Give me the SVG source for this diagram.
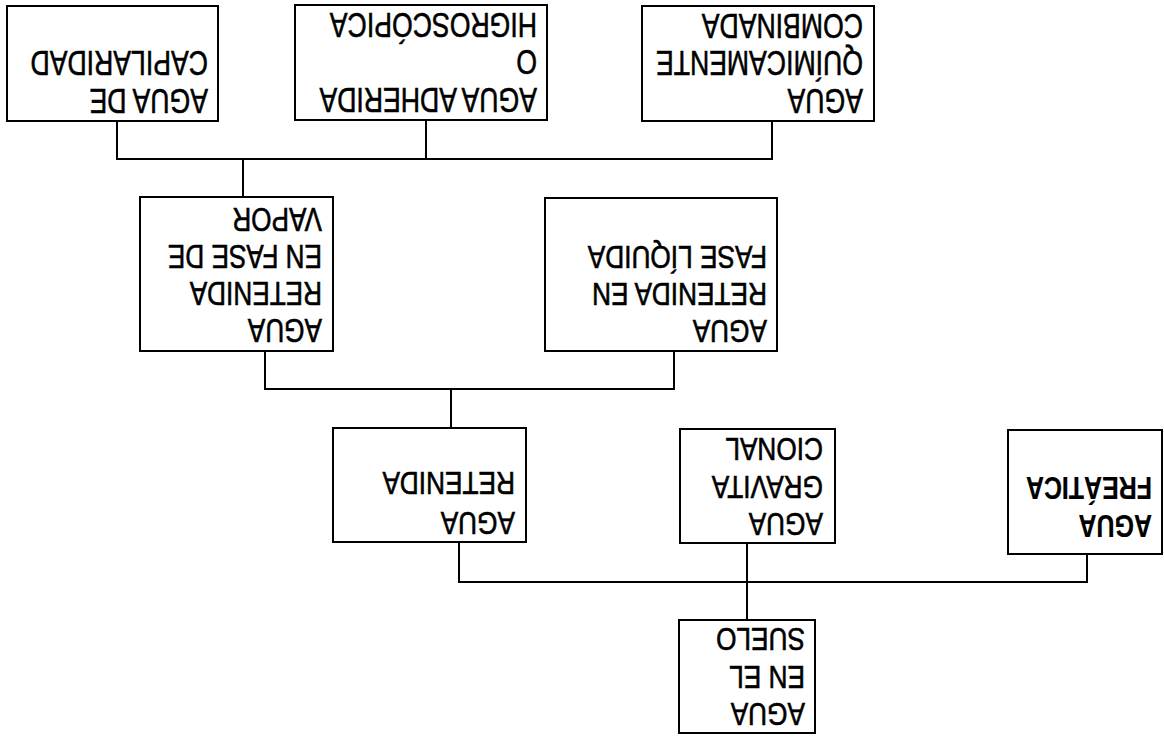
<svg xmlns="http://www.w3.org/2000/svg" width="1164" height="738" viewBox="0 0 1164 738">
<style>
.box{fill:#fff;stroke:#000;stroke-width:2}
.con{fill:none;stroke:#000;stroke-width:2}
text{font-family:"Liberation Sans",Arial,sans-serif;fill:#000;stroke:#000;stroke-width:0.6}
.big{font-size:36px}
.mid{font-size:34px}
.sm{font-size:32px}
.b{font-weight:bold;stroke-width:0.2}
</style>
<rect width="1164" height="738" fill="#fff"/>
<g id="connectors">
<path class="con" d="M117 121V159H772V121M426 120V159M243 159V197"/>
<path class="con" d="M265 351V389H674V351M451 389V428"/>
<path class="con" d="M459 542V582H1087V554M747 543V620"/>
</g>
<g id="capilaridad">
<rect class="box" x="7" y="6" width="211" height="115"/>
<text class="big" transform="translate(208,89) rotate(180) scale(0.74,1)"><tspan x="0" y="0">AGUA DE</tspan><tspan x="0" y="37.7">CAPILARIDAD</tspan></text>
</g>
<g id="adherida">
<rect class="box" x="295" y="5" width="252" height="115"/>
<text class="big" transform="translate(537,88) rotate(180) scale(0.74,1)"><tspan x="0" y="0">AGUA ADHERIDA</tspan><tspan x="0" y="37.7">O</tspan><tspan x="0" y="75.4">HIGROSCÓPICA</tspan></text>
</g>
<g id="quimica">
<rect class="box" x="642" y="6" width="232" height="115"/>
<text class="big" transform="translate(863,89) rotate(180) scale(0.74,1)"><tspan x="0" y="0">AGUA</tspan><tspan x="0" y="37.7">QUÍMICAMENTE</tspan><tspan x="0" y="75.4">COMBINADA</tspan></text>
</g>
<g id="vapor">
<rect class="box" x="140" y="197" width="193" height="154"/>
<text class="mid" transform="translate(322,319) rotate(180) scale(0.77,1)"><tspan x="0" y="0">AGUA</tspan><tspan x="0" y="37">RETENIDA</tspan><tspan x="0" y="74">EN FASE DE</tspan><tspan x="0" y="111">VAPOR</tspan></text>
</g>
<g id="liquida">
<rect class="box" x="545" y="198" width="232" height="153"/>
<text class="sm" transform="translate(767,320) rotate(180) scale(0.82,1)"><tspan x="0" y="0">AGUA</tspan><tspan x="0" y="37">RETENIDA EN</tspan><tspan x="0" y="74">FASE LÍQUIDA</tspan></text>
</g>
<g id="retenida">
<rect class="box" x="333" y="428" width="193" height="114"/>
<text class="sm" transform="translate(515,512) rotate(180) scale(0.82,1)"><tspan x="0" y="0">AGUA</tspan><tspan x="0" y="40">RETENIDA</tspan></text>
</g>
<g id="gravitacional">
<rect class="box" x="680" y="429" width="155" height="114"/>
<text class="sm" transform="translate(823,513) rotate(180) scale(0.82,1)"><tspan x="0" y="0">AGUA</tspan><tspan x="0" y="37.5">GRAVITA</tspan><tspan x="0" y="75">CIONAL</tspan></text>
</g>
<g id="freatica">
<rect class="box" x="1008" y="430" width="154" height="124"/>
<text class="sm b" transform="translate(1152,515) rotate(180) scale(0.78,1)"><tspan x="0" y="0">AGUA</tspan><tspan x="0" y="38">FREÁTICA</tspan></text>
</g>
<g id="suelo">
<rect class="box" x="679" y="620" width="136" height="113"/>
<text class="sm" transform="translate(805,703) rotate(180) scale(0.82,1)"><tspan x="0" y="0">AGUA</tspan><tspan x="0" y="37.5">EN  EL</tspan><tspan x="0" y="75">SUELO</tspan></text>
</g>
</svg>
